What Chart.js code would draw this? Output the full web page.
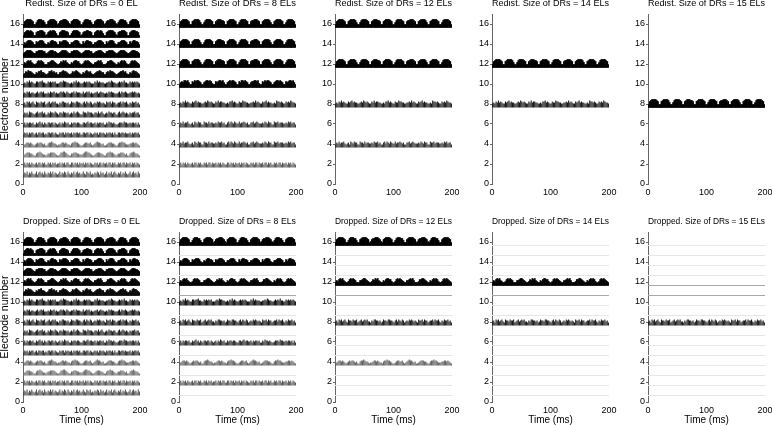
<!DOCTYPE html>
<html>
<head>
<meta charset="utf-8">
<script src="https://cdn.jsdelivr.net/npm/chart.js@4.4.0/dist/chart.umd.min.js"></script>
<style>
  html, body { margin: 0; padding: 0; background: #fff; overflow: hidden; }
  #fig { position: relative; width: 772px; height: 426px; overflow: hidden; }
  #fig canvas { position: absolute; }
</style>
</head>
<body>
<div id="fig"></div>
<script>
// ---- data (amplitudes in tenths of one electrode spacing, one value per 2 ms) ----
const SAMPLE_MS = 2;
const xTicks = [0, 100, 200];
const yTicks = [0, 2, 4, 6, 8, 10, 12, 14, 16];
const drSizes = [0, 8, 12, 14, 15];

const redistTitles = ['Redist. Size of DRs = 0 EL', 'Redist. Size of DRs = 8 ELs', 'Redist. Size of DRs = 12 ELs',
                      'Redist. Size of DRs = 14 ELs', 'Redist. Size of DRs = 15 ELs'];
const droppedTitles = ['Dropped. Size of DRs = 0 EL', 'Dropped. Size of DRs = 8 ELs', 'Dropped. Size of DRs = 12 ELs',
                       'Dropped. Size of DRs = 14 ELs', 'Dropped. Size of DRs = 15 ELs'];

const keptElectrodes = [
  [16, 15, 14, 13, 12, 11, 10, 9, 8, 7, 6, 5, 4, 3, 2, 1],
  [16, 14, 12, 10, 8, 6, 4, 2],
  [16, 12, 8, 4],
  [12, 8],
  [8]
];

// electrodes whose empty baseline shows darker in the "Dropped" row
const darkBaselines = [[], [11], [11], [11], [12, 11]];

// electrodogram of the unmodified strategy (also what the Dropped row keeps)
const baseTraces = {
  16: [3,6,7,8,8,8,8,7,6,3, 3,5,7,8,8,8,7,7,5,3, 3,6,7,8,8,8,8,7,6,3, 4,6,7,7,8,8,8,7,6,4, 3,6,7,8,8,8,8,7,6,3,
       3,5,7,8,8,8,7,7,5,3, 3,6,7,8,8,8,8,7,6,3, 4,6,7,7,8,8,8,7,6,4, 3,5,7,8,8,8,7,7,5,3, 3,6,7,8,8,8,8,7,6,3],
  15: [2,5,6,7,7,6,7,6,5,2, 2,5,6,6,7,7,7,6,5,2, 3,5,6,7,6,7,7,6,4,2, 2,5,6,7,7,7,6,6,5,2, 2,4,6,7,7,7,7,6,5,2,
       3,5,6,6,7,7,6,6,5,2, 2,5,6,7,7,6,7,6,4,2, 2,5,6,7,7,7,7,6,5,3, 2,5,6,6,7,7,7,6,5,2, 2,5,6,7,7,7,6,6,5,2],
  14: [3,5,4,6,7,7,7,6,5,3, 3,6,5,6,7,7,7,6,4,3, 3,5,4,6,7,7,6,6,5,3, 3,6,5,6,7,7,7,6,5,3, 3,5,5,6,7,7,7,6,4,3,
       3,6,4,6,7,7,6,6,5,3, 3,5,5,6,7,7,7,6,5,3, 3,6,4,6,7,7,7,6,4,3, 3,5,5,6,7,7,7,6,5,3, 3,6,4,6,7,7,6,6,5,3],
  13: [4,5,6,7,7,7,7,6,5,4, 4,6,6,7,7,7,7,6,6,4, 4,5,6,7,7,7,6,6,5,4, 4,5,6,7,7,7,7,6,5,4, 4,6,6,7,7,7,7,6,5,4,
       4,5,6,7,7,7,7,6,6,4, 4,5,6,6,7,7,7,6,5,4, 4,6,6,7,7,7,7,6,5,4, 4,5,6,7,7,7,7,6,5,4, 4,5,6,7,7,7,6,6,5,4],
  12: [3,5,4,6,7,6,7,5,4,3, 3,4,6,7,6,7,6,5,3,3, 3,5,5,6,7,7,6,5,4,3, 3,4,6,5,7,6,7,5,4,3, 3,5,4,6,7,7,6,6,4,3,
       3,4,6,7,6,7,6,5,4,3, 3,5,5,6,7,6,7,5,3,3, 3,4,6,6,7,7,6,5,4,3, 3,5,4,6,7,6,7,6,4,3, 3,4,6,7,6,7,6,5,4,3],
  11: [3,4,6,5,7,6,6,5,4,3, 3,5,4,6,6,7,5,5,4,3, 3,4,6,6,7,5,6,4,5,3, 3,5,5,6,7,6,6,5,4,3, 3,4,6,5,6,7,6,5,4,3,
       3,5,4,6,7,6,5,6,4,3, 3,4,5,6,6,7,6,5,5,3, 3,5,6,5,7,6,6,5,4,3, 3,4,5,6,6,7,5,6,4,3, 3,5,4,6,7,6,6,5,4,3],
  10: [4,5,4,6,5,7,5,6,5,4, 4,6,6,5,6,6,7,5,5,4, 4,6,5,6,5,6,5,6,4,4, 4,5,6,5,7,6,6,5,5,4, 4,5,4,6,5,7,5,6,5,4,
       4,5,6,5,6,5,6,5,4,4, 4,6,5,7,5,6,5,5,5,4, 4,5,5,6,5,7,6,5,5,4, 4,5,6,5,6,5,7,5,5,4, 4,6,5,6,5,6,5,6,5,4],
  9:  [4,5,4,6,5,6,4,5,5,4, 4,5,6,4,5,6,5,6,4,4, 4,5,4,6,5,5,6,4,5,4, 4,5,6,5,6,5,4,6,5,4, 4,5,5,6,4,6,5,5,5,4,
       4,6,4,5,6,5,6,4,5,4, 4,5,5,6,4,5,6,5,5,4, 4,5,4,6,5,6,5,5,4,4, 4,5,6,4,6,5,5,6,5,4, 4,5,5,6,5,6,5,4,5,4],
  8:  [4,5,3,6,5,6,4,5,6,4, 3,6,5,5,4,6,5,5,6,3, 4,5,6,4,5,6,5,6,4,4, 3,5,4,6,6,5,5,4,5,3, 4,6,5,5,4,6,6,5,5,4,
       3,5,6,4,6,5,4,6,5,3, 4,5,4,6,5,6,5,4,5,4, 3,6,5,5,6,4,6,5,5,3, 4,5,5,6,4,6,5,5,6,4, 3,5,4,6,5,5,6,4,5,3],
  7:  [3,5,4,5,3,6,5,5,4,3, 4,5,6,4,5,5,6,4,5,3, 3,5,4,6,5,5,4,6,5,4, 3,5,5,4,6,5,5,4,5,3, 4,5,4,6,4,5,6,5,4,3,
       3,6,5,5,4,6,5,5,5,4, 3,5,5,4,6,4,5,6,4,3, 4,5,4,6,5,5,4,5,5,3, 3,5,6,4,5,6,5,4,5,4, 3,5,4,5,5,6,4,5,5,3],
  6:  [3,5,3,5,4,5,5,4,5,3, 3,5,4,5,6,4,5,3,5,4, 3,5,5,4,5,5,3,5,4,3, 4,5,3,5,4,6,5,4,5,3, 3,5,4,5,5,4,5,5,4,3,
       3,5,5,4,5,6,4,5,5,4, 4,5,3,5,4,5,5,4,5,3, 3,5,4,6,5,5,4,5,4,3, 3,4,5,5,5,4,6,5,5,4, 4,5,4,5,5,4,5,3,5,3],
  5:  [3,5,4,5,3,5,4,5,5,3, 4,5,3,5,5,4,5,5,3,4, 3,5,5,4,5,5,3,5,4,3, 3,5,4,5,5,3,5,4,5,4, 4,5,3,5,4,5,5,4,5,3,
       3,5,5,4,5,5,3,5,4,3, 4,5,4,5,3,5,5,4,5,4, 3,5,4,5,5,4,5,3,5,3, 3,5,5,4,5,5,4,5,4,4, 4,5,3,5,4,5,5,4,5,3],
  4:  [2,3,4,5,5,4,5,4,3,2, 3,4,5,4,5,5,4,3,4,2, 2,4,5,5,6,5,4,4,3,2, 3,3,4,5,5,4,5,4,3,3, 2,4,5,5,6,5,5,4,3,2,
       2,3,4,5,5,4,4,5,3,2, 3,4,5,6,5,5,4,3,4,2, 2,3,4,5,5,5,4,4,3,2, 2,4,5,5,6,5,5,4,3,3, 3,4,4,5,5,4,5,4,3,2],
  3:  [2,3,4,5,5,5,4,4,3,2, 2,4,5,5,6,5,4,3,3,2, 3,4,4,5,5,5,5,4,3,2, 2,3,5,5,6,6,5,4,3,2, 2,4,4,5,5,5,4,4,3,3,
       3,4,5,6,6,5,5,4,3,2, 2,3,4,5,5,5,4,4,3,2, 2,4,5,5,6,5,5,4,3,2, 3,4,4,5,5,5,4,3,4,2, 2,4,5,5,6,5,4,4,3,2],
  2:  [3,5,3,5,4,5,3,5,4,3, 4,5,3,5,5,3,5,4,5,3, 3,5,4,5,3,5,4,5,3,4, 4,5,3,5,4,5,3,5,5,3, 3,5,5,3,5,4,5,3,5,4,
       4,5,3,5,4,5,3,5,4,3, 3,5,4,5,3,5,5,3,5,4, 4,5,3,5,5,3,5,4,5,3, 3,5,4,5,3,5,5,3,5,4, 4,5,3,5,4,5,3,5,4,3],
  1:  [3,5,4,6,3,5,4,6,4,3, 4,6,3,5,6,4,5,3,6,4, 3,5,4,6,4,6,3,5,4,3, 4,6,3,5,4,6,5,3,6,4, 3,5,4,6,3,5,6,4,5,3,
       4,6,4,3,6,5,4,6,3,4, 3,5,4,6,5,3,6,4,5,3, 4,6,3,5,4,6,3,5,6,4, 3,5,4,6,3,5,4,6,4,3, 4,6,3,5,6,4,5,3,6,4]
};

// electrodograms after redistribution, grouped by the look of the trace
const redistDome = [3,6,7,8,8,8,8,7,6,3, 3,6,7,8,8,8,8,7,5,3, 3,5,7,8,8,8,8,7,6,3, 3,6,7,8,8,8,7,7,6,3, 3,6,7,8,8,8,8,7,6,3,
                    3,5,7,8,8,8,8,7,6,3, 3,6,7,7,8,8,8,7,6,3, 3,6,7,8,8,8,8,7,5,3, 3,6,7,8,8,8,8,7,6,3, 3,5,7,8,8,8,8,7,6,3];
const redistDomeJag = [3,5,6,5,7,7,6,7,5,3, 3,6,5,7,6,7,7,6,5,3, 3,5,6,7,7,6,7,6,4,3, 3,6,5,6,7,7,6,7,5,3, 3,5,6,7,6,7,7,6,5,3,
                       3,6,5,7,7,6,7,6,5,3, 3,5,6,6,7,7,6,7,4,3, 3,6,5,7,6,7,7,6,5,3, 3,5,6,7,7,6,7,6,5,3, 3,6,5,6,7,7,6,7,5,3];
const redistMid = [4,5,4,6,5,7,5,6,5,4, 4,6,5,6,7,5,6,5,5,4, 4,5,6,5,7,6,5,6,5,4, 4,6,5,7,5,6,6,5,5,4, 4,5,4,6,6,7,5,6,5,4,
                   4,6,5,5,7,6,6,5,5,4, 4,5,5,6,5,7,5,6,5,4, 4,6,5,6,7,5,6,5,5,4, 4,5,4,7,6,6,5,6,5,4, 4,6,5,6,5,7,6,5,5,4];
const redistLow = [3,5,4,6,4,5,5,6,4,3, 4,5,3,6,5,4,6,5,5,3, 3,6,5,5,4,6,4,5,5,4, 4,5,4,6,5,5,6,4,5,3, 3,5,6,4,6,5,4,6,5,4,
                   4,6,4,5,5,6,5,4,5,3, 3,5,5,6,4,5,6,5,4,4, 4,5,4,6,5,4,6,5,5,3, 3,6,5,5,6,4,5,5,5,4, 4,5,4,6,5,6,4,5,5,3];
const redistLowest = [3,5,3,5,4,5,3,5,4,3, 4,5,3,5,5,3,5,4,5,3, 3,5,4,5,3,5,5,3,5,4, 4,5,3,5,4,5,3,5,4,3, 3,5,5,3,5,4,5,3,5,4,
                      4,5,3,5,4,5,3,5,4,3, 3,5,4,5,3,5,5,3,5,4, 4,5,3,5,5,3,5,4,5,3, 3,5,4,5,3,5,5,3,5,4, 4,5,3,5,4,5,3,5,4,3];

const redistTraces = [
  null,
  [redistDome, redistDome, redistDome, redistDomeJag, redistMid, redistLow, redistLow, redistLowest],
  [redistDome, redistDome, redistMid, redistLow],
  [redistDome, redistMid],
  [redistDome]
];

// ---- styles: [colour, bar fill fraction] ----
const FONT = "'Liberation Sans', Arial, Helvetica, sans-serif";
const baseStyle = {
  16: ['#000', 1], 15: ['#000', 1], 14: ['#000', 1], 13: ['#000', 1], 12: ['#050505', 1], 11: ['#0a0a0a', 1],
  10: ['#0e0e0e', 0.92], 9: ['#141414', 0.92], 8: ['#1a1a1a', 0.9], 7: ['#202020', 0.9], 6: ['#282828', 0.9],
  5: ['#303030', 0.9], 4: ['#666', 0.94], 3: ['#727272', 0.94], 2: ['#4a4a4a', 0.8], 1: ['#424242', 0.8]
};
const redistStyle = new Map([[redistDome, ['#000', 1]], [redistDomeJag, ['#050505', 1]], [redistMid, ['#161616', 0.9]],
                             [redistLow, ['#2c2c2c', 0.9]], [redistLowest, ['#4a4a4a', 0.8]]]);
const AMP_UNIT = 0.1;      // electrode spacing per amplitude step
const BASE_OFFSET = 0.35;  // trace baseline below electrode number

const plotLefts = [23, 179, 335, 492, 648];
const plotTops = [14, 232];
const PLOT_W = 117, PLOT_H = 170, TITLE_H = 16, RIGHT_PAD = 10;

Chart.defaults.font.family = FONT;
Chart.defaults.color = '#000';

function traceDataset(electrode, amps, style) {
  const lo = electrode - BASE_OFFSET;
  return {
    type: 'bar',
    data: amps.map((a, i) => ({ x: i * SAMPLE_MS + SAMPLE_MS / 2, y: [lo, lo + a * AMP_UNIT] })),
    backgroundColor: style[0],
    borderWidth: 0,
    barPercentage: style[1],
    categoryPercentage: 1,
    grouped: false,
    order: 1
  };
}

function baselineDataset(electrode, color) {
  const y = electrode - BASE_OFFSET;
  return {
    type: 'line',
    data: [{ x: xTicks[0], y }, { x: xTicks[xTicks.length - 1], y }],
    borderColor: color,
    borderWidth: 1,
    pointRadius: 0,
    order: 2
  };
}

function makePanel(row, col) {
  const datasets = [];
  const kept = keptElectrodes[col];
  if (row === 0 && col > 0) {
    kept.forEach((e, k) => {
      const tr = redistTraces[col][k];
      datasets.push(traceDataset(e, tr, redistStyle.get(tr)));
    });
  } else {
    if (col > 0) {
      for (let e = 16; e >= 1; e--) {
        if (kept.includes(e)) continue;
        datasets.push(baselineDataset(e, darkBaselines[col].includes(e) ? '#a8a8a8' : '#e6e6e6'));
      }
    }
    kept.forEach(e => datasets.push(traceDataset(e, baseTraces[e], baseStyle[e])));
  }

  const yW = col === 0 ? 23 : 24;
  const xH = row === 0 ? 16 : 24;
  const canvas = document.createElement('canvas');
  canvas.width = yW + PLOT_W + RIGHT_PAD;
  canvas.height = TITLE_H + PLOT_H + xH;
  canvas.style.left = (plotLefts[col] - yW) + 'px';
  canvas.style.top = (plotTops[row] - TITLE_H) + 'px';
  document.getElementById('fig').appendChild(canvas);

  new Chart(canvas, {
    type: 'bar',
    data: { datasets },
    options: {
      responsive: false,
      animation: false,
      events: [],
      layout: { padding: { left: 0, right: RIGHT_PAD, top: 0, bottom: 0 } },
      plugins: {
        legend: { display: false },
        tooltip: { enabled: false },
        title: {
          display: true,
          fullSize: false,
          text: row === 0 ? redistTitles[col] : droppedTitles[col],
          color: '#000',
          font: { size: 9.5, weight: 'normal', lineHeight: 1.2 },
          padding: { top: 0, bottom: TITLE_H - 9.5 * 1.2 }
        }
      },
      scales: {
        x: {
          type: 'linear',
          min: 0, max: 200,
          offset: false,
          afterBuildTicks: s => { s.ticks = xTicks.map(v => ({ value: v })); },
          afterFit: s => { s.height = xH; },
          grid: { display: false, drawTicks: true, tickLength: 2, offset: false },
          border: { display: false },
          ticks: { font: { size: 9 }, padding: 1, maxRotation: 0, autoSkip: false, color: '#000' },
          title: { display: row === 1, text: 'Time (ms)', font: { size: 10 }, padding: 0, color: '#000' }
        },
        y: {
          min: 0, max: 17,
          afterBuildTicks: s => { s.ticks = yTicks.map(v => ({ value: v })); },
          afterFit: s => { s.width = yW; },
          grid: { display: true, drawOnChartArea: false, drawTicks: true, tickLength: 2, color: '#666' },
          border: { display: true, color: '#666', width: 1 },
          ticks: { font: { size: 9 }, padding: 1, color: '#000' },
          title: { display: col === 0, text: 'Electrode number', font: { size: 10.5, lineHeight: 1 }, padding: 0, color: '#000' }
        }
      }
    }
  });
}

for (let row = 0; row < 2; row++) {
  for (let col = 0; col < drSizes.length; col++) makePanel(row, col);
}
</script>
</body>
</html>
